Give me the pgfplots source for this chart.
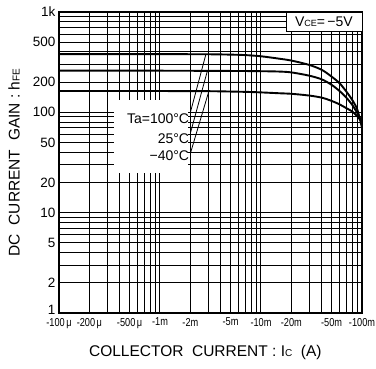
\documentclass[border=0pt]{standalone}
\usepackage{fontspec}
\setmainfont{Liberation Sans}
\usepackage{graphicx}
\usepackage{pgfplots}
\pgfplotsset{compat=1.18}
\newcommand{\xl}[1]{\scalebox{0.8}[1]{#1}}
\begin{document}
\begin{tikzpicture}
\begin{axis}[
  name=ax,
  xmode=log, ymode=log,
  scale only axis, width=303pt, height=301pt,
  xmin=1e-4, xmax=1e-1, ymin=1, ymax=1000,
  clip=false,
  grid=both,
  major grid style={black, line width=1pt},
  minor grid style={black, line width=1pt},
  axis line style={line width=2.4pt},
  tick style={draw=none},
  xtick={1e-4,2e-4,5e-4,1e-3,2e-3,5e-3,1e-2,2e-2,5e-2,1e-1},
  xticklabels={\xl{-100\,μ},\xl{-200\,μ},\xl{-500\,μ},\xl{-1m},\xl{-2m},\xl{-5m},\xl{-10m},\xl{-20m},\xl{-50m},\xl{-100m}},
  minor xtick={3e-4,4e-4,6e-4,7e-4,8e-4,9e-4,3e-3,4e-3,6e-3,7e-3,8e-3,9e-3,3e-2,4e-2,6e-2,7e-2,8e-2,9e-2},
  ytick={1,2,5,10,20,50,100,200,500,1000},
  yticklabels={\raisebox{5.5pt}{1},2,5,10,20,50,100,200,500,1k},
  minor ytick={3,4,6,7,8,9,30,40,60,70,80,90,300,400,600,700,800,900},
  xticklabel style={font=\fontsize{11.5}{11.5}\selectfont, yshift=-1.5pt},
  yticklabel style={font=\fontsize{13.5}{13.5}\selectfont},
]
% label box
\fill[white] (3.51e-4,25) rectangle (1.9e-3,133);
\node[anchor=east, inner sep=0pt, font=\fontsize{14}{14}\selectfont] at (1.95e-3,86) {Ta=100°C};
\node[anchor=east, inner sep=0pt, font=\fontsize{14}{14}\selectfont] at (1.95e-3,55) {25°C};
\node[anchor=east, inner sep=0pt, font=\fontsize{14}{14}\selectfont] at (1.95e-3,36.7) {−40°C};
\draw[line width=0.8pt] (2e-3,100) -- (2.85e-3,380);
\draw[line width=0.8pt] (2e-3,62) -- (2.95e-3,260);
\draw[line width=0.8pt] (2e-3,39) -- (3.05e-3,163);
% VCE box
\draw[fill=white, line width=0.9pt] (1.77e-2,634) rectangle (1e-1,1000);
\node[font=\fontsize{14}{14}\selectfont] at (4.2e-2,797) {V{\fontsize{9}{9}\selectfont CE}=\,−5V};
% curves
\addplot[black, line width=1.9pt, smooth] coordinates {
(1e-4,380) (1e-3,380) (3e-3,379) (5e-3,376) (7e-3,372) (1e-2,362) (1.5e-2,343) (2e-2,328) (3e-2,297) (4e-2,265) (5e-2,227) (6e-2,195) (7e-2,161) (8e-2,133) (9e-2,106) (1e-1,70)};
\addplot[black, line width=1.9pt, smooth] coordinates {
(1e-4,260) (1e-3,260) (3e-3,259) (5e-3,258.5) (7e-3,258) (1e-2,257) (1.5e-2,255) (2e-2,250) (3e-2,232) (4e-2,213) (5e-2,188) (6e-2,163) (7e-2,140) (8e-2,119) (9e-2,98) (1e-1,81)};
\addplot[black, line width=1.9pt, smooth] coordinates {
(1e-4,163) (1e-3,163) (3e-3,162.5) (7e-3,160) (1e-2,158) (1.5e-2,155) (2e-2,153) (3e-2,147) (4e-2,140) (5e-2,130) (6e-2,120) (7e-2,110) (8e-2,102) (9e-2,91) (1e-1,80)};
% axis labels
\node[rotate=90, font=\fontsize{15.5}{15.5}\selectfont] at (rel axis cs:-0.148,0.5) {DC\ \ CURRENT\ \ GAIN : h{\fontsize{10}{10}\selectfont FE}};
\node[font=\fontsize{15.5}{15.5}\selectfont] at (rel axis cs:0.483,-0.13) {COLLECTOR\ \ CURRENT : I{\fontsize{10}{10}\selectfont C}\ \ (A)};
\coordinate (LL) at (rel axis cs:0,0);
\coordinate (UR) at (rel axis cs:1,1);
\end{axis}
\pgfresetboundingbox
\path[use as bounding box] ([xshift=-59pt,yshift=-55pt]LL) rectangle ([xshift=14pt,yshift=12pt]UR);
\end{tikzpicture}
\end{document}
